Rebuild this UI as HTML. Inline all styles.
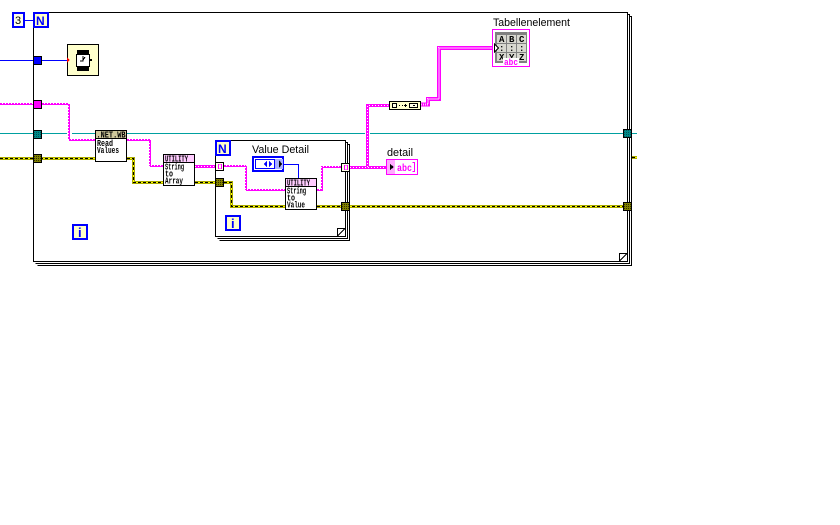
<!DOCTYPE html>
<html><head><meta charset="utf-8"><style>
html,body{margin:0;padding:0;background:#fff;width:840px;height:525px;overflow:hidden}
svg{display:block}
text{font-family:"Liberation Sans",sans-serif;font-size:11px;fill:#000}
.m{font-family:"Liberation Mono",monospace;font-size:9px;font-weight:bold}
.w{fill:none;shape-rendering:crispEdges}
.p1{stroke:#ff00ff;stroke-width:1}
.p2{stroke:#ff00ff;stroke-width:1;stroke-dasharray:2 1}
.p3{stroke:#ff00ff;stroke-width:3}
.p3d{stroke:#fff;stroke-width:1;stroke-dasharray:1 2}
.pt{stroke:#ff00ff;stroke-width:4}
.ptd{stroke:#ffccff;stroke-width:2;stroke-dasharray:1 1}
.y0{stroke:#a8a800;stroke-width:3}
.y1{stroke:#ffff00;stroke-width:1}
.y2{stroke:#000;stroke-width:1;stroke-dasharray:3 2}
</style></head><body>
<svg width="840" height="525" viewBox="0 0 840 525" xmlns="http://www.w3.org/2000/svg" shape-rendering="crispEdges">
<defs><pattern id="ol" width="2" height="2" patternUnits="userSpaceOnUse"><rect width="2" height="2" fill="#808000"/><rect width="1" height="1" fill="#333300"/></pattern>
<pattern id="cy" width="2" height="2" patternUnits="userSpaceOnUse"><rect width="2" height="2" fill="#008888"/><rect width="1" height="1" fill="#005555"/></pattern></defs>

<!-- outer loop frames -->
<path d="M37.5 265.5H631.5V16.5H629.5" class="w" stroke="#000"/>
<path d="M35.5 263.5H629.5V14.5H627.5" class="w" stroke="#000"/>
<rect x="33.5" y="12.5" width="594" height="249" fill="#fff" stroke="#000"/>
<path d="M619.5 261V253.5H627M619.5 261L627 253.5" class="w" stroke="#000"/>

<!-- cyan wire -->
<path d="M0 133.5H67M72 133.5H365M370 133.5H637" class="w" stroke="#00a0a0"/>
<!-- blue wire -->
<path d="M0 60.5H67M25 20.5H33" class="w" stroke="#0000ff"/>

<!-- pink wires, thin -->
<path d="M0 104.5H69.5V140.5H95M127 140.5H150.5V166.5H163" class="w p1"/>
<path d="M0 103.5H68.5V139.5H95M127 139.5H149.5V165.5H163" class="w p2"/>

<!-- inner loop -->
<path d="M219.5 240.5H349.5V144.5H347.5" class="w" stroke="#000"/>
<path d="M217.5 238.5H347.5V142.5H345.5" class="w" stroke="#000"/>
<path d="M215.5 140.5H345.5V236.5H215.5Z" class="w" stroke="#000"/>
<path d="M337.5 236V228.5H345M337.5 236L345 228.5" class="w" stroke="#000"/>

<path d="M224 166.5H246.5V190.5H285M317 190.5H322.5V167.5H341" class="w p1"/>
<path d="M224 165.5H245.5V189.5H285M317 189.5H321.5V166.5H341" class="w p2"/>
<path d="M195 166.5H215" class="w p3"/><path d="M195 166.5H215" class="w p3d"/>
<path d="M350 167.5H386M367.5 169V105.5H389" class="w p3"/>
<path d="M350 167.5H386M367.5 167V105.5H389" class="w p3d"/>
<path d="M421 104.5H428V99H439V48H493" class="w pt"/>
<path d="M421 104.5H428V99H439V48H493" class="w ptd"/>

<!-- yellow wires -->
<path d="M0 158.5H95M127 158.5H133.5V182.5H163M195 182.5H215M224 182.5H231.5V206.5H285M317 206.5H623M632 157.5H637" class="w y0"/>
<path d="M0 158.5H95M127 158.5H133.5V182.5H163M195 182.5H215M224 182.5H231.5V206.5H285M317 206.5H623M632 157.5H637" class="w y1"/>
<path d="M0 158.5H95M127 158.5H133.5V182.5H163M195 182.5H215M224 182.5H231.5V206.5H285M317 206.5H623M632 157.5H637" class="w y2"/>

<!-- terminals on outer loop -->
<rect x="33.5" y="56.5" width="8" height="8" fill="#0000ff" stroke="#000"/>
<rect x="33.5" y="100.5" width="8" height="8" fill="#ff00ff" stroke="#000"/>
<rect x="33.5" y="130.5" width="8" height="8" fill="url(#cy)" stroke="#000"/>
<rect x="33.5" y="154.5" width="8" height="8" fill="url(#ol)" stroke="#000"/>
<rect x="623.5" y="129.5" width="8" height="8" fill="url(#cy)" stroke="#000"/>
<rect x="623.5" y="202.5" width="8" height="8" fill="url(#ol)" stroke="#000"/>

<!-- 3 and N -->
<rect x="13" y="13" width="11" height="14" fill="#ffffe8" stroke="#0000ff" stroke-width="2"/>
<text x="15" y="24" style="font-size:11px">3</text>
<rect x="34" y="13" width="14" height="14" fill="#ffffc8" stroke="#0000ff" stroke-width="2"/>
<text x="36" y="25" style="font-size:12px;font-weight:bold;fill:#0000ff">N</text>

<!-- clock -->
<rect x="67.5" y="44.5" width="31" height="31" fill="#ffffcc" stroke="#000"/>
<path d="M67 57.5l3 2.5-3 2.5z" fill="#ff0000"/>
<rect x="77" y="50" width="12" height="5" fill="#000"/><rect x="77" y="66" width="12" height="5" fill="#000"/>
<rect x="76.5" y="54.5" width="13" height="12" fill="#fff" stroke="#000"/>
<rect x="90" y="59" width="2" height="2" fill="#000"/>
<path d="M83 56v5h-3M83 60l2-3" stroke="#000" fill="none"/>

<!-- NET.WB node -->
<rect x="95.5" y="130.5" width="31" height="31" fill="#fff" stroke="#000"/>
<rect x="96" y="131" width="30" height="7" fill="#cfc89c"/><path d="M96 138.5H126" stroke="#000"/>
<text class="m" x="96.5" y="137.5" textLength="29" lengthAdjust="spacingAndGlyphs">.NET.WB</text>
<text class="m" x="97" y="146" textLength="16" lengthAdjust="spacingAndGlyphs">Read</text>
<text class="m" x="97" y="153" textLength="22" lengthAdjust="spacingAndGlyphs">Values</text>

<!-- utility 1 -->
<rect x="163.5" y="154.5" width="31" height="31" fill="#fff" stroke="#000"/>
<rect x="164" y="155" width="30" height="7" fill="#ffccff"/><path d="M164 162.5H194" stroke="#000"/>
<text class="m" x="165" y="161.5" textLength="23" lengthAdjust="spacingAndGlyphs">UTILITY</text>
<text class="m" x="165" y="169.5" textLength="19" lengthAdjust="spacingAndGlyphs">String</text>
<text class="m" x="165" y="176.5" textLength="8" lengthAdjust="spacingAndGlyphs">to</text>
<text class="m" x="165" y="183.5" textLength="18" lengthAdjust="spacingAndGlyphs">Array</text>

<!-- inner N, i -->
<rect x="216" y="141" width="14" height="14" fill="#ffffc8" stroke="#0000ff" stroke-width="2"/>
<text x="218" y="153" style="font-size:12px;font-weight:bold;fill:#0000ff">N</text>
<rect x="226" y="216" width="14" height="14" fill="#ffffc8" stroke="#0000ff" stroke-width="2"/>
<text x="231" y="228" style="font-size:13px;font-weight:bold;fill:#0000ff">i</text>
<rect x="73" y="225" width="14" height="14" fill="#ffffc8" stroke="#0000ff" stroke-width="2"/>
<text x="78" y="237" style="font-size:13px;font-weight:bold;fill:#0000ff">i</text>

<!-- inner tunnels -->
<rect x="215.5" y="162.5" width="8" height="8" fill="#ffffe8" stroke="#000"/>
<path d="M219.5 164.5h-1v4h1M220.5 164.5h1v4h-1" fill="none" stroke="#ff00ff"/>
<rect x="215.5" y="178.5" width="8" height="8" fill="url(#ol)" stroke="#000"/>
<rect x="341.5" y="163.5" width="8" height="8" fill="#ffffe8" stroke="#000"/>
<path d="M345.5 165.5h-1v4h1M346.5 165.5h1v4h-1" fill="none" stroke="#ff00ff"/>
<rect x="341.5" y="202.5" width="8" height="8" fill="url(#ol)" stroke="#000"/>

<!-- Value Detail -->
<text x="252" y="153" textLength="57" lengthAdjust="spacingAndGlyphs">Value Detail</text>
<path d="M284 164.5H298.5V178" class="w" stroke="#0000ff"/>
<rect x="253" y="157" width="30" height="14" fill="#fff" stroke="#0000ff" stroke-width="2"/>
<rect x="255.5" y="159.5" width="19" height="9" fill="#fff" stroke="#0000ff"/>
<path d="M267 160.5l-3 3.5 3 3.5zM269 160.5l3 3.5-3 3.5z" fill="#0000ff"/>
<rect x="275" y="159" width="8" height="10" fill="#aab0ff"/>
<path d="M279 160l3 4-3 4z" fill="#000"/>

<!-- utility 2 -->
<rect x="285.5" y="178.5" width="31" height="31" fill="#fff" stroke="#000"/>
<rect x="286" y="179" width="30" height="7" fill="#ffccff"/><path d="M286 186.5H316" stroke="#000"/>
<text class="m" x="287" y="185.5" textLength="23" lengthAdjust="spacingAndGlyphs">UTILITY</text>
<text class="m" x="287" y="193.5" textLength="19" lengthAdjust="spacingAndGlyphs">String</text>
<text class="m" x="287" y="200.5" textLength="8" lengthAdjust="spacingAndGlyphs">to</text>
<text class="m" x="287" y="207.5" textLength="18" lengthAdjust="spacingAndGlyphs">Value</text>

<!-- bundle node -->
<rect x="389.5" y="101.5" width="31" height="8" fill="#ffffcc" stroke="#000"/>
<rect x="392.5" y="103.5" width="4" height="4" fill="#ffffe8" stroke="#000"/>
<path d="M399 105.5h1M402 105.5h1M404 105.5h3M405.5 104v3" stroke="#000"/>
<rect x="409.5" y="103.5" width="8" height="4" fill="#ffffe8" stroke="#000"/>
<rect x="413" y="105" width="2" height="1" fill="#000"/>

<!-- detail -->
<text x="387" y="156" textLength="26" lengthAdjust="spacingAndGlyphs">detail</text>
<rect x="386.5" y="159.5" width="31" height="15" fill="#fff" stroke="#ff00ff"/>
<rect x="387" y="160" width="8" height="14" fill="#ffaaff"/>
<path d="M390 164l4 3-4 3z" fill="#000"/>
<text x="397" y="171" textLength="15" lengthAdjust="spacingAndGlyphs" style="font-family:'Liberation Mono',monospace;font-size:10px;font-weight:bold;fill:#ff00ff">abc</text>
<path d="M412.5 162.5h2v9h-2" fill="none" stroke="#ff00ff"/>

<!-- table -->
<text x="493" y="26" textLength="77" lengthAdjust="spacingAndGlyphs">Tabellenelement</text>
<rect x="492.5" y="29.5" width="37" height="37" fill="#fff" stroke="#ff00ff"/>
<rect x="495" y="32" width="32" height="31" fill="#808080"/>
<rect x="497" y="35" width="9" height="8" fill="#d8d8d0"/>
<rect x="507" y="35" width="9" height="8" fill="#d8d8d0"/><rect x="517" y="35" width="9" height="8" fill="#d8d8d0"/>
<rect x="497" y="44" width="9" height="8" fill="#d8d8d0"/><rect x="507" y="44" width="9" height="8" fill="#d8d8d0"/><rect x="517" y="44" width="9" height="8" fill="#d8d8d0"/>
<rect x="497" y="53" width="9" height="8" fill="#d8d8d0"/><rect x="507" y="53" width="9" height="8" fill="#d8d8d0"/><rect x="517" y="53" width="9" height="8" fill="#d8d8d0"/>
<text class="m" x="499" y="42">A</text><text class="m" x="509" y="42">B</text><text class="m" x="519" y="42">C</text>
<text class="m" x="499" y="51">:</text><text class="m" x="509" y="51">:</text><text class="m" x="519" y="51">:</text>
<text class="m" x="499" y="60">X</text><text class="m" x="509" y="60">Y</text><text class="m" x="519" y="60">Z</text>
<rect x="503" y="58" width="16" height="8" fill="#fff"/>
<text x="504" y="65" class="m" style="fill:#ff00ff" textLength="14" lengthAdjust="spacingAndGlyphs">abc</text>
<path d="M494.5 44l4 4-4 4z" fill="#fff" stroke="#000" stroke-width="1"/>
</svg>
</body></html>
